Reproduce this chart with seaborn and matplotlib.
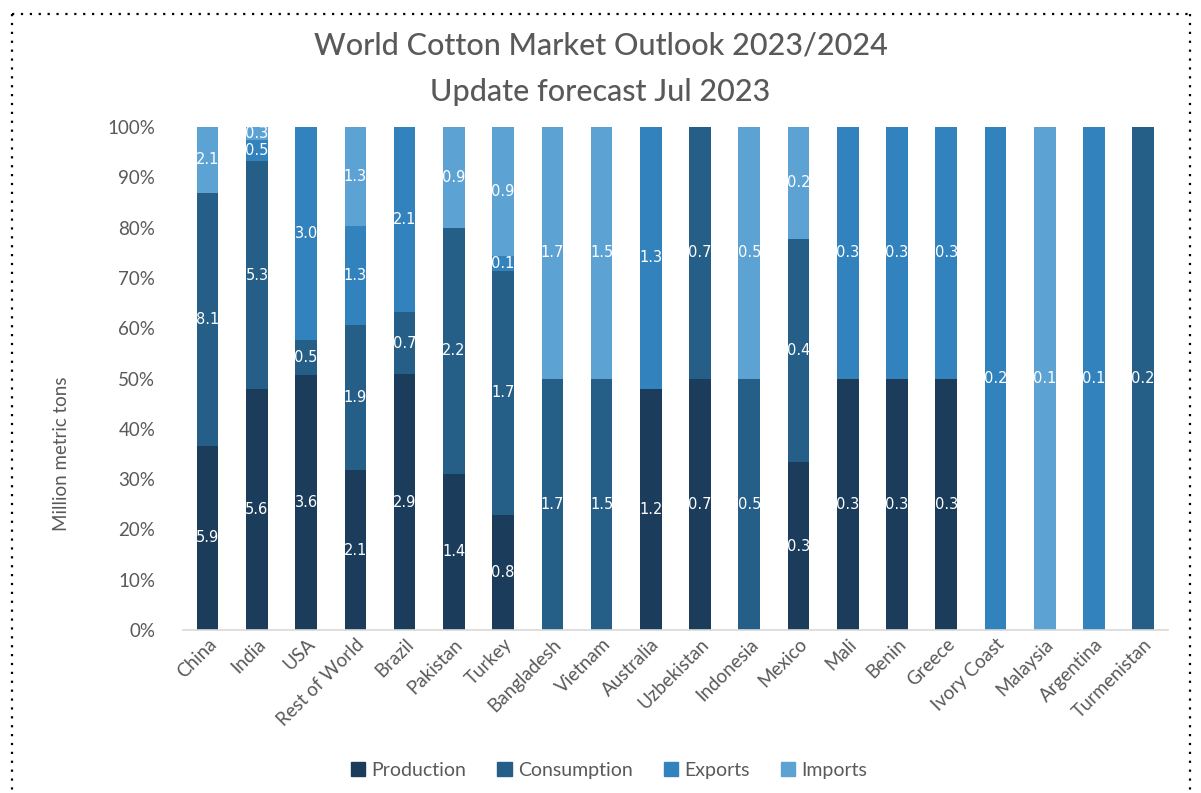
import numpy as np
import pandas as pd
import matplotlib
matplotlib.use("Agg")
import matplotlib.pyplot as plt
import seaborn as sns
from matplotlib.lines import Line2D

countries = ["China", "India", "USA", "Rest of World", "Brazil", "Pakistan", "Turkey",
             "Bangladesh", "Vietnam", "Australia", "Uzbekistan", "Indonesia", "Mexico",
             "Mali", "Benin", "Greece", "Ivory Coast", "Malaysia", "Argentina", "Turmenistan"]
production  = [5.9, 5.6, 3.6, 2.1, 2.9, 1.4, 0.8, 0.0, 0.0, 1.2, 0.7, 0.0, 0.3, 0.3, 0.3, 0.3, 0.0, 0.0, 0.0, 0.0]
consumption = [8.1, 5.3, 0.5, 1.9, 0.7, 2.2, 1.7, 1.7, 1.5, 0.0, 0.7, 0.5, 0.4, 0.0, 0.0, 0.0, 0.0, 0.0, 0.0, 0.2]
exports     = [0.0, 0.5, 3.0, 1.3, 2.1, 0.0, 0.1, 0.0, 0.0, 1.3, 0.0, 0.0, 0.0, 0.3, 0.3, 0.3, 0.2, 0.0, 0.1, 0.0]
imports     = [2.1, 0.3, 0.0, 1.3, 0.0, 0.9, 0.9, 1.7, 1.5, 0.0, 0.0, 0.5, 0.2, 0.0, 0.0, 0.0, 0.0, 0.1, 0.0, 0.0]
series_names = ["Production", "Consumption", "Exports", "Imports"]
yticks = [0, 10, 20, 30, 40, 50, 60, 70, 80, 90, 100]

colors = ["#1b3d5b", "#255f87", "#3282bd", "#5ca2d3"]
gray = "#595959"

sns.set_theme(style="white")
plt.rcParams["font.family"] = ["Lato", "DejaVu Sans"]

df = pd.DataFrame({"country": countries, "Production": production, "Consumption": consumption,
                   "Exports": exports, "Imports": imports})
totals = df[series_names].sum(axis=1)
pct = df[series_names].div(totals, axis=0) * 100

fig = plt.figure(figsize=(12.01, 7.93), dpi=100)
ax = fig.add_axes([0.1524, 0.2055, 0.82, 0.6343])

bottom = np.zeros(len(countries))
for name, col in zip(series_names, colors):
    vals = pct[name].values
    sns.barplot(x=countries, y=vals, bottom=bottom, color=col, width=0.44,
                errorbar=None, ax=ax, label=name, saturation=1, linewidth=0, legend=False)
    cont = ax.containers[-1]
    labs = [f"{v:.1f}" if v > 0 else "" for v in df[name].values]
    ax.bar_label(cont, labels=labs, label_type="center", color="white", fontsize=10.5,
                 family=["DejaVu Sans"])
    bottom = bottom + vals

lg = ax.get_legend()
if lg is not None:
    lg.remove()

ax.set_ylim(0, 100)
ax.set_xlim(-0.5, len(countries) - 0.5)
ax.set_yticks(yticks)
ax.set_yticklabels([f"{t}%" for t in yticks], color=gray, fontsize=13.5)
ax.tick_params(axis="y", length=0, pad=20)
ax.tick_params(axis="x", length=0, pad=4)
plt.setp(ax.get_xticklabels(), rotation=45, ha="right", rotation_mode="anchor",
         color=gray, fontsize=13.5)
for s in ["top", "right", "left"]:
    ax.spines[s].set_visible(False)
ax.spines["bottom"].set_color("#d9d9d9")
ax.spines["bottom"].set_linewidth(1.2)

ax.set_ylabel("Million metric tons", color=gray, fontsize=13.5)
ax.yaxis.set_label_coords(-0.115, 0.35)

fig.text(0.5, 0.943, "World Cotton Market Outlook 2023/2024", ha="center", va="center",
         fontsize=22, color=gray, fontweight="medium")
fig.text(0.5, 0.884, "Update forecast Jul 2023", ha="center", va="center",
         fontsize=22, color=gray, fontweight="medium")

handles = [plt.Rectangle((0, 0), 1, 1, color=c) for c in colors]
leg = fig.legend(handles, series_names, loc="center", bbox_to_anchor=(0.507, 0.029), ncol=4,
                 frameon=False, fontsize=14, handlelength=0.75, handleheight=0.75,
                 handletextpad=0.3, columnspacing=1.6)
for t in leg.get_texts():
    t.set_color(gray)

# dotted border
W, H = 1201, 793
kw = dict(color="black", linestyle=(0, (1, 3)), linewidth=1.6, transform=fig.transFigure)
fig.add_artist(Line2D([12 / W, 1190 / W], [1 - 14 / H, 1 - 14 / H], **kw))
fig.add_artist(Line2D([12 / W, 12 / W], [1 - 14 / H, 0], **kw))
fig.add_artist(Line2D([1190 / W, 1190 / W], [1 - 14 / H, 0], **kw))

fig.savefig("out.png", dpi=100)
